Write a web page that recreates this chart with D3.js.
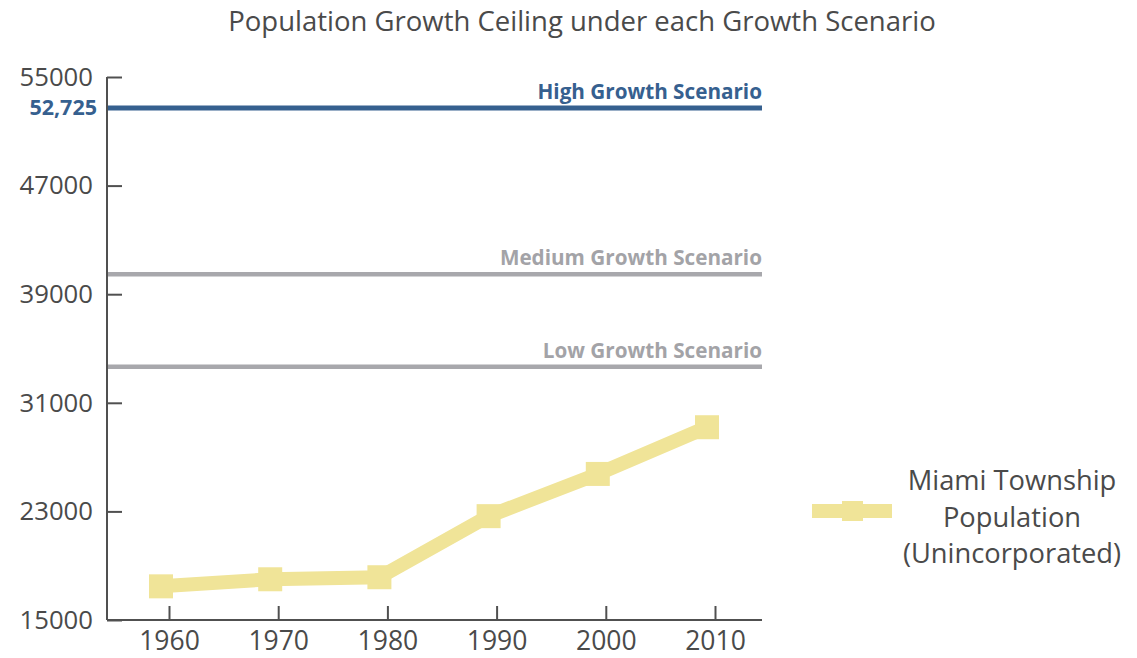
<!DOCTYPE html>
<html>
<head>
<meta charset="utf-8">
<script src="https://cdn.jsdelivr.net/npm/d3@7"></script>
<style>
  html, body { margin: 0; padding: 0; background: #ffffff; }
  svg { display: block; font-family: "Open Sans", sans-serif; }
</style>
</head>
<body>
<svg id="chart" width="1137" height="658"></svg>
<script>
// Census years and unincorporated population
const years = [1960, 1970, 1980, 1990, 2000, 2010];
const population = [17480, 18000, 18150, 22650, 25760, 29200];

// Population ceilings for each growth scenario
const scenarioNames = ["High Growth Scenario", "Medium Growth Scenario", "Low Growth Scenario"];
const scenarioValues = [52725, 40470, 33660];
const scenarioColors = ["#36608f", "#a8a8ac", "#a8a8ac"];
const scenarioLabelColors = ["#36608f", "#a3a3a7", "#a3a3a7"];

// Axis ticks
const yTicks = [15000, 23000, 31000, 39000, 47000, 55000];
const xTickLabels = ["1960", "1970", "1980", "1990", "2000", "2010"];

const title = "Population Growth Ceiling under each Growth Scenario";
const legendLines = ["Miami Township", "Population", "(Unincorporated)"];

const svg = d3.select("#chart");
const textColor = "#4a4a4a";
const axisColor = "#505050";
const lineColor = "#f0e498";

const plot = { left: 107, right: 762, top: 77, bottom: 620 };

const y = d3.scaleLinear().domain([15000, 55000]).range([plot.bottom, plot.top]);
const x = d3.scaleLinear().domain([1960, 2010]).range([161, 707]);
const tickShift = 8.5; // axis ticks sit slightly right of the data points

// Title
svg.append("text")
  .attr("x", 582).attr("y", 31)
  .attr("text-anchor", "middle")
  .attr("font-size", 27.5)
  .attr("fill", textColor)
  .text(title);

// Scenario ceiling lines
const scen = svg.append("g");
scenarioValues.forEach((v, i) => {
  scen.append("line")
    .attr("x1", plot.left).attr("x2", plot.right)
    .attr("y1", y(v)).attr("y2", y(v))
    .attr("stroke", scenarioColors[i])
    .attr("stroke-width", i === 0 ? 5 : 4.5);
  scen.append("text")
    .attr("x", plot.right).attr("y", y(v) - 9)
    .attr("text-anchor", "end")
    .attr("font-size", 20.7)
    .attr("font-weight", 700)
    .attr("fill", scenarioLabelColors[i])
    .text(scenarioNames[i]);
});

// Value label for the high scenario ceiling
svg.append("text")
  .attr("x", 97).attr("y", y(scenarioValues[0]))
  .attr("dy", "0.35em")
  .attr("text-anchor", "end")
  .attr("font-size", 21.5)
  .attr("font-weight", 700)
  .attr("fill", scenarioColors[0])
  .text(d3.format(",")(scenarioValues[0]));

// Y axis
const yAxis = svg.append("g")
  .attr("transform", `translate(${plot.left},0)`)
  .call(d3.axisRight(y).tickValues(yTicks).tickFormat(d3.format("d")).tickSize(15).tickPadding(0));
yAxis.select(".domain").attr("stroke", axisColor).attr("stroke-width", 2)
  .attr("d", `M0,${plot.top}V${plot.bottom}`);
yAxis.selectAll(".tick line").attr("stroke", axisColor).attr("stroke-width", 2);
yAxis.selectAll(".tick text")
  .attr("x", -14).attr("text-anchor", "end")
  .attr("font-size", 25.7).attr("font-family", "Open Sans, sans-serif")
  .attr("fill", textColor);

// X axis
const xAxisG = svg.append("g")
  .attr("transform", `translate(0,${plot.bottom})`);
xAxisG.append("line")
  .attr("x1", plot.left).attr("x2", plot.right)
  .attr("y1", 0).attr("y2", 0)
  .attr("stroke", axisColor).attr("stroke-width", 2);
const xt = xAxisG.selectAll("g.xtick").data(years).join("g")
  .attr("class", "xtick")
  .attr("transform", d => `translate(${x(d) + tickShift},0)`);
xt.append("line").attr("y1", 0).attr("y2", -14)
  .attr("stroke", axisColor).attr("stroke-width", 2);
xt.append("text")
  .attr("y", 30).attr("text-anchor", "middle")
  .attr("font-size", 26.5).attr("fill", textColor)
  .text((d, i) => xTickLabels[i]);

// Population line with square markers
const pts = years.map((yr, i) => ({ yr, v: population[i] }));
svg.append("path")
  .datum(pts)
  .attr("fill", "none")
  .attr("stroke", lineColor)
  .attr("stroke-width", 14)
  .attr("stroke-linejoin", "miter")
  .attr("d", d3.line().x(d => x(d.yr)).y(d => y(d.v)));
const m = 24;
svg.append("g").selectAll("rect").data(pts).join("rect")
  .attr("x", d => x(d.yr) - m / 2)
  .attr("y", d => y(d.v) - m / 2)
  .attr("width", m).attr("height", m)
  .attr("fill", lineColor);

// Legend
const lg = svg.append("g");
lg.append("line")
  .attr("x1", 812).attr("x2", 892).attr("y1", 511).attr("y2", 511)
  .attr("stroke", lineColor).attr("stroke-width", 14);
lg.append("rect")
  .attr("x", 842).attr("y", 501).attr("width", 21).attr("height", 20)
  .attr("fill", lineColor);
lg.selectAll("text").data(legendLines).join("text")
  .attr("x", 1012)
  .attr("y", (d, i) => 490 + i * 36.5)
  .attr("text-anchor", "middle")
  .attr("font-size", 27.3)
  .attr("fill", textColor)
  .text(d => d);
</script>
</body>
</html>
